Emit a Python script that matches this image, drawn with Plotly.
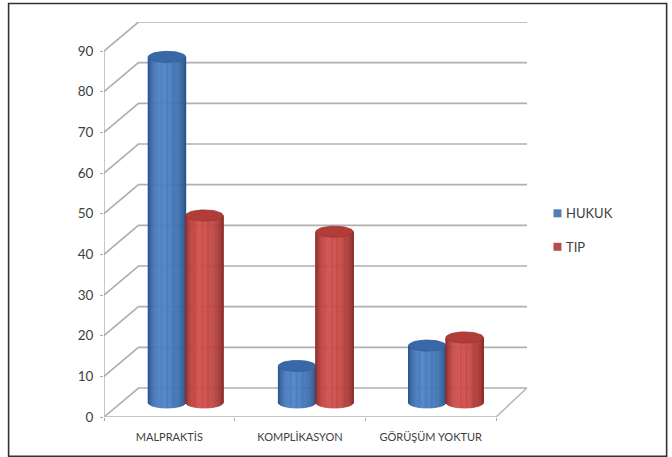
import numpy as np
import plotly.graph_objects as go

# Chart data
categories = ["MALPRAKTİS", "KOMPLİKASYON", "GÖRÜŞÜM YOKTUR"]
hukuk = [85, 9, 14]
tip = [46, 42, 16]
y_ticks = [0, 10, 20, 30, 40, 50, 60, 70, 80, 90]

# Page and plot geometry (pixels)
W, H = 672, 457
LEFT, RIGHT, TOP, BOTTOM = 103.5, 527.0, 21.7, 416.7
FLOOR_W = 392.5                # width of the front floor edge
DEPTH_X, DEPTH_Y = 34.5, 29.0  # oblique offset of the back wall
UNIT_Y = (BOTTOM - 50.7) / 90  # pixels per value unit
UNIT_X = FLOOR_W / 3           # pixels per category

x_max = (RIGHT - LEFT) / UNIT_X
y_max = (BOTTOM - TOP) / UNIT_Y
dx = DEPTH_X / UNIT_X
dy = DEPTH_Y / UNIT_Y

GRID = "#b0b0b0"
fig = go.Figure()


def line(xs, ys, color=GRID, width=1.7):
    fig.add_trace(go.Scatter(x=xs, y=ys, mode="lines", hoverinfo="skip", showlegend=False,
                             line=dict(color=color, width=width)))


# Walls and floor of the 3D frame
grid_x, grid_y = [], []
for v in y_ticks:
    grid_x += [0, dx, x_max, None]
    grid_y += [v, v + dy, v + dy, None]
line(grid_x, grid_y)
line([0, 0], [0, 90], "#a8a8a8", 1.3)
line([0, 3, x_max], [0, 0, dy], "#b4b4b4", 1.4)

# Cylinder geometry in axis units
BAR_W = 37.5 / UNIT_X
RY = 5.5 / UNIT_Y
CENTER_Y = dy / 2              # cylinders stand mid-depth on the floor
OFFSETS = [(166.5 - LEFT) / UNIT_X, (204 - LEFT) / UNIT_X]
STEP = 130.3 / UNIT_X
STRIPS = 48

# Horizontal shading profile across a cylinder, from left edge to right edge
PROFILE_POS = [0.0, 0.06, 0.18, 0.36, 0.6, 0.82, 0.94, 1.0]
PROFILE_VAL = [0.0, 0.35, 0.8, 1.0, 0.85, 0.55, 0.25, 0.0]
STYLES = [
    dict(dark=(42, 86, 142), light=(78, 130, 198), cap=(56, 104, 168), cap_edge=(46, 90, 148)),
    dict(dark=(142, 46, 44), light=(208, 80, 76), cap=(178, 60, 56), cap_edge=(152, 50, 46)),
]


def rgb(c):
    return "rgb(%d,%d,%d)" % c


def mix(a, b, t):
    return "rgb(%d,%d,%d)" % tuple(round(p + (q - p) * t) for p, q in zip(a, b))


def cylinders(values, offset, style):
    rx = BAR_W / 2
    for i in range(STRIPS):
        a0 = np.pi - np.pi * i / STRIPS
        a1 = np.pi - np.pi * (i + 1) / STRIPS
        # shade follows the horizontal position of the strip
        pos = (1 + np.cos((a0 + a1) / 2)) / 2
        color = mix(style["dark"], style["light"], float(np.interp(pos, PROFILE_POS, PROFILE_VAL)))
        xs, ys = [], []
        t = np.linspace(a0, a1, 3)
        for c, v in enumerate(values):
            bx = offset + STEP * c + rx * np.cos(t)
            low = CENTER_Y - RY * np.sin(t)
            high = CENTER_Y + v - RY * np.sin(t)
            xs += list(bx) + list(bx[::-1]) + [None]
            ys += list(low) + list(high[::-1]) + [None]
        fig.add_trace(go.Scatter(x=xs, y=ys, mode="lines", fill="toself", fillcolor=color,
                                 line=dict(color=color, width=0.8), hoverinfo="skip",
                                 showlegend=False))
    # top caps
    xs, ys = [], []
    t = np.linspace(0, 2 * np.pi, 40)
    for c, v in enumerate(values):
        xs += list(offset + STEP * c + rx * np.cos(t)) + [None]
        ys += list(CENTER_Y + v + RY * np.sin(t)) + [None]
    fig.add_trace(go.Scatter(x=xs, y=ys, mode="lines", fill="toself",
                             fillcolor=rgb(style["cap"]),
                             line=dict(color=rgb(style["cap_edge"]), width=0.8),
                             hoverinfo="skip", showlegend=False))


cylinders(hukuk, OFFSETS[0], STYLES[0])
cylinders(tip, OFFSETS[1], STYLES[1])


# Pixel to paper conversion for page furniture
def px_x(p):
    return (p - LEFT) / (RIGHT - LEFT)


def px_y(p):
    return (BOTTOM - p) / (BOTTOM - TOP)


TEXT = "#404040"

# Outer frame
fig.add_shape(type="rect", xref="paper", yref="paper", x0=px_x(8), x1=px_x(666.8),
              y0=px_y(456), y1=px_y(3.2), line=dict(color="#333333", width=1.6),
              fillcolor="rgba(0,0,0,0)", layer="below")

# Key beside the plot
for name, color, ypx in [("HUKUK", "#4f7fb8", 213), ("TIP", "#b84a50", 246.5)]:
    fig.add_shape(type="rect", xref="paper", yref="paper", x0=px_x(553.5), x1=px_x(561.5),
                  y0=px_y(ypx + 4), y1=px_y(ypx - 4), fillcolor=color, line=dict(width=0))
    fig.add_annotation(text=name, xref="paper", yref="paper", x=px_x(564.5), y=px_y(ypx),
                       xanchor="left", yanchor="middle", showarrow=False,
                       font=dict(size=13, color=TEXT, family="Lato"))

fig.update_layout(
    width=W, height=H, autosize=False, showlegend=False,
    margin=dict(l=LEFT, r=W - RIGHT, t=TOP, b=H - BOTTOM, pad=0),
    paper_bgcolor="white", plot_bgcolor="white",
    font=dict(family="Lato", color=TEXT),
    xaxis=dict(range=[0, x_max], showgrid=False, zeroline=False, showline=False,
               tickmode="array", tickvals=[0.5, 1.5, 2.5], ticktext=categories,
               ticks="", tickfont=dict(size=11, color=TEXT), ticklabelstandoff=12,
               minor=dict(tickmode="array", tickvals=[0, 1, 2, 3], ticks="outside",
                          ticklen=3, tickcolor="#a8a8a8", tickwidth=1)),
    yaxis=dict(range=[0, y_max], showgrid=False, zeroline=False, showline=False,
               tickmode="array", tickvals=y_ticks, ticks="outside", ticklen=3,
               tickcolor="#a8a8a8", tickfont=dict(size=13.5, color=TEXT),
               ticklabelstandoff=4),
)

fig.write_html("out.html")
